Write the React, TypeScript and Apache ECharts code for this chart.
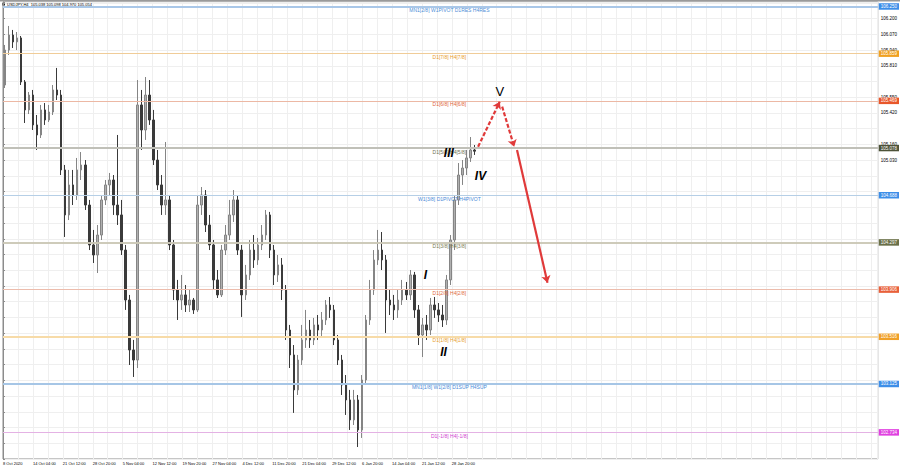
import React, { useEffect, useRef } from 'react';
import * as echarts from 'echarts';

const chartTitle = 'USDJPY,H4  105.038 105.098 104.970 105.054';

const xLabels = [
  '8 Oct 2020', '14 Oct 04:00', '21 Oct 12:00', '28 Oct 20:00', '5 Nov 04:00', '12 Nov 12:00',
  '19 Nov 20:00', '27 Nov 04:00', '4 Dec 12:00', '11 Dec 20:00', '21 Dec 04:00', '29 Dec 12:00',
  '6 Jan 20:00', '14 Jan 04:00', '21 Jan 12:00', '28 Jan 20:00',
];

const yTicks = [
  '102.570', '102.700', '102.830', '102.960', '103.090', '103.220', '103.350', '103.480', '103.610',
  '103.735', '103.865', '103.995', '104.125', '104.255', '104.385', '104.515', '104.645', '104.775',
  '104.905', '105.030', '105.160', '105.290', '105.420', '105.550', '105.680', '105.810', '105.940',
  '106.070', '106.200',
];

const opens = [
  105.601, 105.890, 106.014, 105.957, 105.990, 105.626, 105.395, 105.518, 105.271, 105.188,
  105.395, 105.312, 105.378, 105.560, 105.518, 104.899, 104.527, 104.775, 104.692, 104.899,
  104.940, 104.609, 104.279, 104.196, 104.361, 104.651, 104.775, 104.816, 104.609, 104.527,
  104.237, 103.824, 103.411, 103.328, 105.436, 105.229, 105.518, 105.312, 104.981, 104.775,
  104.609, 104.651, 104.279, 103.907, 103.824, 103.866, 103.783, 103.824, 103.742, 104.609,
  104.692, 104.444, 104.279, 103.990, 103.866, 104.237, 104.361, 104.527, 104.651, 104.237,
  103.866, 104.031, 104.237, 104.155, 104.279, 104.361, 104.527, 104.237, 104.031, 104.114,
  103.907, 103.576, 103.370, 103.081, 103.328, 103.494, 103.576, 103.494, 103.618, 103.576,
  103.659, 103.783, 103.742, 103.494, 103.328, 103.122, 102.998, 102.833, 102.998, 102.750,
  103.163, 103.659, 103.907, 104.155, 104.237, 104.155, 103.824, 103.783, 103.742, 103.824,
  103.907, 103.866, 104.031, 103.742, 103.535, 103.618, 103.576, 103.783, 103.742, 103.700,
  103.659, 103.990, 104.320, 104.651, 104.857, 104.915, 104.998, 105.064,
];

const closes = [
  105.890, 106.014, 105.957, 105.990, 105.626, 105.395, 105.518, 105.271, 105.188, 105.395,
  105.312, 105.378, 105.560, 105.518, 104.899, 104.527, 104.775, 104.692, 104.899, 104.940,
  104.609, 104.279, 104.196, 104.361, 104.651, 104.775, 104.816, 104.609, 104.527, 104.237,
  103.824, 103.411, 103.328, 105.436, 105.229, 105.518, 105.312, 104.981, 104.775, 104.609,
  104.651, 104.279, 103.907, 103.824, 103.866, 103.783, 103.824, 103.742, 104.609, 104.692,
  104.444, 104.279, 103.990, 103.866, 104.237, 104.361, 104.527, 104.651, 104.237, 103.866,
  104.031, 104.237, 104.155, 104.279, 104.361, 104.527, 104.237, 104.031, 104.114, 103.907,
  103.576, 103.370, 103.081, 103.328, 103.494, 103.576, 103.494, 103.618, 103.576, 103.659,
  103.783, 103.742, 103.494, 103.328, 103.122, 102.998, 102.833, 102.998, 102.750, 103.163,
  103.659, 103.907, 104.155, 104.237, 104.155, 103.824, 103.783, 103.742, 103.824, 103.907,
  103.866, 104.031, 103.742, 103.535, 103.618, 103.576, 103.783, 103.742, 103.700, 103.659,
  103.990, 104.320, 104.651, 104.857, 104.915, 104.998, 105.064, 105.054,
];

const lows = [
  105.576, 105.849, 105.907, 105.890, 105.601, 105.287, 105.361, 105.229, 105.064, 105.163,
  105.271, 105.295, 105.353, 105.477, 104.857, 104.345, 104.485, 104.609, 104.651, 104.816,
  104.568, 104.237, 104.130, 104.047, 104.320, 104.609, 104.692, 104.527, 104.444, 104.196,
  103.742, 103.287, 103.188, 103.262, 105.064, 105.147, 105.271, 104.940, 104.733, 104.527,
  104.527, 104.237, 103.824, 103.659, 103.742, 103.725, 103.725, 103.709, 103.725, 104.527,
  104.386, 104.237, 103.907, 103.841, 103.849, 104.196, 104.320, 104.469, 104.196, 103.684,
  103.824, 103.990, 104.089, 104.114, 104.237, 104.320, 104.171, 103.948, 103.973, 103.824,
  103.494, 103.262, 102.891, 103.039, 103.287, 103.428, 103.428, 103.452, 103.494, 103.510,
  103.618, 103.676, 103.452, 103.287, 103.039, 102.874, 102.750, 102.791, 102.609, 102.684,
  103.122, 103.618, 103.866, 104.114, 104.072, 103.552, 103.700, 103.659, 103.676, 103.783,
  103.824, 103.824, 103.676, 103.452, 103.353, 103.494, 103.535, 103.676, 103.643, 103.601,
  103.618, 103.948, 104.237, 104.609, 104.775, 104.857, 104.965, 105.023,
];

const highs = [
  105.932, 106.089, 106.056, 106.039, 106.006, 105.642, 105.543, 105.560, 105.353, 105.436,
  105.452, 105.436, 105.601, 105.742, 105.560, 104.940, 104.899, 104.899, 104.998, 105.047,
  104.981, 104.651, 104.403, 104.444, 104.692, 104.816, 104.874, 104.857, 105.188, 104.651,
  104.279, 103.866, 103.494, 105.642, 105.560, 105.667, 105.642, 105.395, 105.064, 104.857,
  105.130, 104.692, 104.320, 103.990, 104.031, 103.948, 103.907, 103.841, 104.692, 104.758,
  104.733, 104.527, 104.320, 104.072, 104.279, 104.444, 104.651, 104.733, 104.692, 104.279,
  104.114, 104.320, 104.361, 104.337, 104.444, 104.568, 104.552, 104.279, 104.196, 104.171,
  103.948, 103.618, 103.452, 103.370, 103.618, 103.742, 103.659, 103.676, 103.700, 103.725,
  103.824, 103.849, 103.783, 103.535, 103.370, 103.204, 103.081, 103.081, 103.039, 103.204,
  103.700, 103.990, 104.237, 104.403, 104.386, 104.196, 103.907, 103.866, 103.907, 103.990,
  103.973, 104.072, 104.056, 103.783, 103.676, 103.700, 103.841, 103.849, 103.799, 103.783,
  104.031, 104.361, 104.692, 104.956, 104.981, 105.064, 105.171, 105.105,
];

// Murrey math levels
const levels = [106.25, 105.859, 105.469, 105.078, 104.688, 104.297, 103.906, 103.516, 103.125, 102.734];
const levelBadges = ['106.250', '105.859', '105.469', '105.078', '104.688', '104.297', '103.906', '103.516', '103.125', '102.734'];
const levelNames = [
  'MN1[2/8] W1PIVOT D1RES H4RES', 'D1[7/8] H4[7/8]', 'D1[6/8] H4[6/8]', 'D1[5/8] H4[5/8]',
  'W1[3/8] D1PIVOT H4PIVOT', 'D1[3/8] H4[3/8]', 'D1[2/8] H4[2/8]', 'D1[1/8] H4[1/8]',
  'MN1[1/8] W1[2/8] D1SUP H4SUP', 'D1[-1/8] H4[-1/8]',
];
const levelLineColors = ['#a9c7e8', '#f0cc98', '#ecb8a4', '#c0c0b8', '#b6cfe6', '#cbc7b6', '#ecbcac', '#f7dba8', '#a6c6e6', '#e4b2e4'];
const levelTextColors = ['#4f8fd8', '#e89a2a', '#e0643a', '#6e7050', '#4a8ad8', '#7a7a50', '#e06a40', '#e8a030', '#4a8ad8', '#d040d0'];
const levelBadgeColors = ['#3d8ee8', '#f0a020', '#e8562a', '#4c5238', '#3d8ee8', '#6a7048', '#e8603a', '#f0a028', '#3d8ee8', '#e040e0'];
const levelWidths = [2, 1, 1, 2, 1, 1.5, 1, 2, 2, 1];

// Elliott wave marks (bar index, price)
const waveNames = ['I', 'II', 'III', 'IV', 'V'];
const waveX = [104.8, 109.3, 110.6, 118.5, 123.3];
const waveY = [104.031, 103.397, 105.037, 104.852, 105.546];
const waveItalic = [true, true, true, true, false];

// projected path arrows (bar index, price)
const projX = [[117.9, 123.3], [123.9, 126.9], [127.6, 135.2]];
const projY = [[105.091, 105.463], [105.422, 105.091], [105.064, 103.967]];
const projDashed = [true, true, false];

const TOTAL_SLOTS = 218;

export default function App() {
  const ref = useRef<HTMLDivElement>(null);

  useEffect(() => {
    if (!ref.current) return;
    const chart = echarts.init(ref.current, undefined, { renderer: 'svg' });
    const slots = Array.from({ length: TOTAL_SLOTS }, (_, i) => String(i));
    const candles = opens.map((o, i) => [o, closes[i], lows[i], highs[i]]);

    const markData: any[] = [];
    levels.forEach((lv, i) => {
      markData.push({
        yAxis: lv,
        lineStyle: { color: levelLineColors[i], width: levelWidths[i], type: 'solid' },
        label: {
          show: true,
          position: 'insideMiddleBottom',
          formatter: levelNames[i],
          color: levelTextColors[i],
          fontSize: 5,
          distance: 1,
          padding: [0, 0, 0, 18],
        },
      });
      markData.push({
        yAxis: lv,
        lineStyle: { color: levelLineColors[i], width: levelWidths[i], type: 'solid' },
        label: {
          show: true,
          position: 'end',
          formatter: levelBadges[i],
          color: '#ffffff',
          backgroundColor: levelBadgeColors[i],
          fontSize: 4.5,
          distance: 1,
          padding: [1, 2, 0.5, 2],
        },
      });
    });

    const option: any = {
      animation: false,
      backgroundColor: '#ffffff',
      textStyle: { fontFamily: 'Liberation Sans, Arial, sans-serif' },
      title: {
        text: chartTitle,
        left: 6,
        top: 1,
        padding: 1,
        textStyle: { fontSize: 4, fontWeight: 'normal', color: '#000000' },
      },
      graphic: [
        { type: 'rect', left: 0, top: 0, shape: { width: 900, height: 1.5 }, style: { fill: '#9a9a9a' }, silent: true },
        { type: 'rect', left: 2.5, top: 3, shape: { width: 2.5, height: 2.5 }, style: { fill: '#222' }, silent: true },
      ],
      grid: {
        left: 1,
        right: 22,
        top: 2,
        bottom: 9,
        show: true,
        borderColor: '#8c8c8c',
        borderWidth: 1,
      },
      xAxis: [
        { type: 'category', data: slots, show: false, boundaryGap: true },
        {
          type: 'value',
          position: 'bottom',
          min: 0,
          max: 877,
          interval: 15,
          axisLine: { show: false },
          axisTick: { show: false },
          splitLine: { show: true, lineStyle: { color: '#efefef', width: 1 } },
          axisLabel: {
            fontSize: 4,
            color: '#000',
            align: 'left',
            margin: 2,
            showMaxLabel: false,
            formatter: (v: number) => (v % 30 === 0 ? xLabels[v / 30] ?? '' : ''),
          },
        },
        { type: 'value', min: -0.5, max: TOTAL_SLOTS - 0.5, show: false },
      ],
      yAxis: {
        type: 'value',
        position: 'right',
        min: 102.51,
        max: 106.287,
        interval: 0.13,
        axisLine: { show: true, lineStyle: { color: '#8c8c8c' } },
        axisTick: { show: true, length: 2, lineStyle: { color: '#8c8c8c' } },
        splitLine: { show: true, lineStyle: { color: '#efefef', width: 1 } },
        axisLabel: {
          fontSize: 4.5,
          color: '#000',
          margin: 3,
          formatter: (v: number) => {
            let best = '';
            let bd = 0.05;
            yTicks.forEach((t) => {
              const d = Math.abs(parseFloat(t) - v);
              if (d < bd) { bd = d; best = t; }
            });
            return best;
          },
        },
      },
      series: [
        {
          type: 'candlestick',
          xAxisIndex: 0,
          yAxisIndex: 0,
          data: candles,
          barWidth: 2,
          itemStyle: {
            color: '#b0b0b0',
            color0: '#3a3a3a',
            borderColor: '#858585',
            borderColor0: '#3a3a3a',
            borderWidth: 1,
          },
          markLine: {
            silent: true,
            symbol: ['none', 'none'],
            animation: false,
            data: markData,
          },
          z: 3,
        },
        {
          type: 'lines',
          coordinateSystem: 'cartesian2d',
          xAxisIndex: 2,
          yAxisIndex: 0,
          symbol: ['none', 'arrow'],
          symbolSize: 7,
          lineStyle: { color: '#e03a3a', width: 2.2, opacity: 1 },
          data: projX.map((xs, i) => ({
            coords: [[xs[0], projY[i][0]], [xs[1], projY[i][1]]],
            lineStyle: { color: '#e03a3a', width: 2.2, type: projDashed[i] ? [4, 2] : 'solid' },
          })),
          z: 6,
        },
        {
          type: 'scatter',
          xAxisIndex: 2,
          yAxisIndex: 0,
          symbolSize: 1,
          itemStyle: { color: 'rgba(0,0,0,0)', opacity: 1 },
          data: waveNames.map((n, i) => ({
            name: n,
            value: [waveX[i], waveY[i]],
            label: {
              fontStyle: waveItalic[i] ? 'italic' : 'normal',
              fontWeight: waveItalic[i] ? 'bold' : 'normal',
              fontSize: waveItalic[i] ? 12 : 13,
            },
          })),
          label: {
            show: true,
            position: 'inside',
            formatter: '{b}',
            fontSize: 12,
            color: '#000000',
            opacity: 1,
            fontFamily: 'Liberation Sans, Arial, sans-serif',
          },
          z: 7,
        },
      ],
    };

    chart.setOption(option);
    return () => chart.dispose();
  }, []);

  return (
    <div
      ref={ref}
      style={{ position: 'fixed', left: 0, top: 0, width: 900, height: 468, background: '#fff' }}
    />
  );
}
